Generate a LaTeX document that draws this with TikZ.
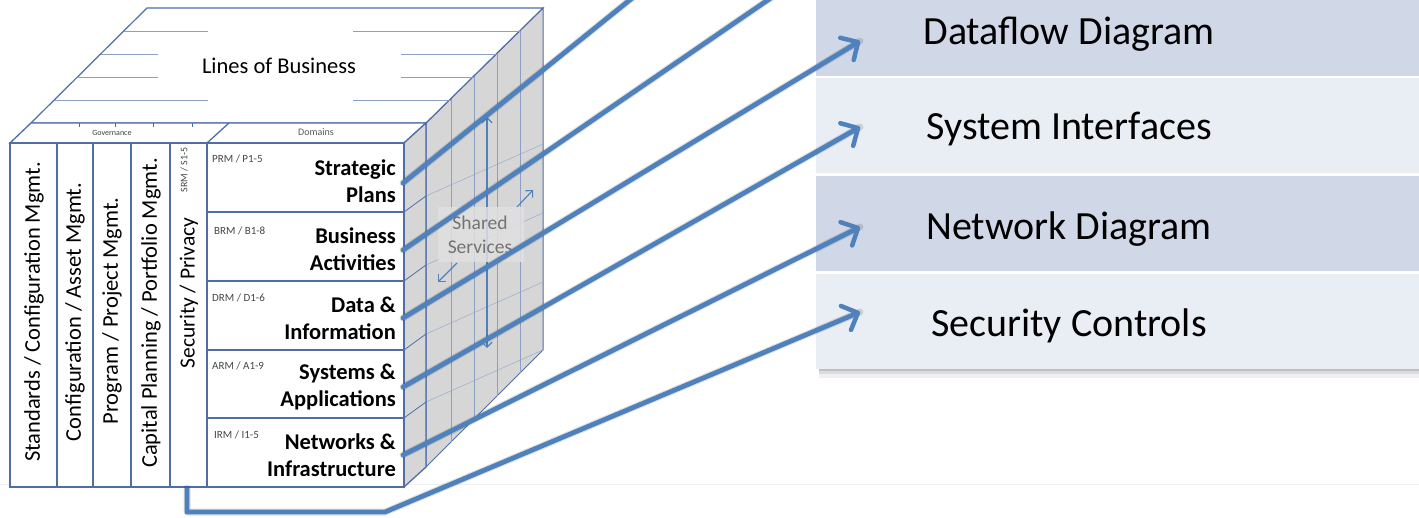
\documentclass[tikz,border=0pt]{standalone}
\usepackage{fontspec}
\setmainfont{Carlito}
\usetikzlibrary{arrows.meta}
\definecolor{cubeline}{RGB}{79,110,168}
\definecolor{facelines}{RGB}{140,160,196}
\definecolor{arrowblue}{RGB}{79,129,189}
\definecolor{sidegray}{RGB}{214,214,214}
\definecolor{rowdark}{RGB}{208,216,232}
\definecolor{rowlight}{RGB}{233,237,244}
\definecolor{codegray}{RGB}{70,70,70}
\begin{document}
\begin{tikzpicture}[x=1pt,y=-1pt,
  cube/.style={draw=cubeline, line width=1.3pt},
  thinline/.style={draw=facelines, line width=0.7pt},
  conn/.style={draw=arrowblue, line width=4.8pt, line cap=round, line join=round},
  tipped/.style={-{Straight Barb[length=13pt,width=26pt,line width=4.5pt,round]}},
  shadowline/.style={draw=black, opacity=0.12, line width=7pt, line cap=round, line join=round},
  domtxt/.style={font=\fontsize{22.5}{27}\selectfont\bfseries, align=right, anchor=east, inner sep=0pt},
  codetxt/.style={font=\fontsize{11}{13}\selectfont, text=codegray, anchor=west, inner sep=0pt},
  govtxt/.style={font=\fontsize{22.5}{26}\selectfont, rotate=90, inner sep=0pt},
  paneltxt/.style={font=\fontsize{40}{48}\selectfont, anchor=base, inner sep=0pt},
  smallarrow/.style={draw=arrowblue, line width=1.1pt, -{Straight Barb[length=5pt,width=10pt,line width=1.1pt]}},
]
\useasboundingbox (0,0) rectangle (1419,518);
\clip (0,0) rectangle (1419,518);
\fill[white] (0,0) rectangle (1419,518);
% faint slide line
\draw[black!6, line width=0.8pt] (0,484) -- (1419,484);

% ---------- right panel ----------
\fill[black!25] (819,369) rectangle (1419,371);
\fill[black!14] (819,371) rectangle (1419,374);
\fill[black!6] (819,374) rectangle (1419,378);
\fill[rowdark]  (816,-20) rectangle (1419,76);
\fill[rowlight] (816,78) rectangle (1419,173);
\fill[rowdark]  (816,176) rectangle (1419,271);
\fill[rowlight] (816,274) rectangle (1419,369);
\node[paneltxt] (df) at (1069,45) {Dataflow Diagram};
\node[paneltxt] (si) at (1069,140) {System Interfaces};
\node[paneltxt] (nd) at (1069,240) {Network Diagram};
\node[paneltxt] (sc) at (1069,337) {Security Controls};

% ---------- right face of cube ----------
\filldraw[fill=sidegray, draw=cubeline, line width=1pt]
  (426,123) -- (543,8) -- (543,350) -- (426,467) -- cycle;
\foreach \x in {451,474,497,520}{
  \draw[thinline] (\x,{123-(\x-426)}) -- (\x,{467-(\x-426)});
}
\foreach \yb in {212,281,350,418}{
  \draw[draw=cubeline!60, line width=0.5pt] (426,{\yb-16}) -- (543,{\yb-68});
}
% shared services
\draw[draw=arrowblue, line width=1.1pt, {Straight Barb[length=5pt,width=10pt,line width=1.1pt]}-{Straight Barb[length=5pt,width=10pt,line width=1.1pt]}] (487,117) -- (487,348);
\draw[smallarrow] (517,207) -- (533,190);
\draw[smallarrow] (457,263) -- (438,282);
\fill[black!12, opacity=0.85] (438,207) rectangle (524,262);
\node[font=\fontsize{19.5}{24}\selectfont, text=black!55, align=center, inner sep=0pt] (ss) at (480,235) {Shared\\Services};

% ---------- top face ----------
\filldraw[fill=white, draw=cubeline, line width=1.2pt]
  (31,123) -- (147,8) -- (543,8) -- (426,123) -- cycle;
\draw[thinline] (124,31) -- (208,31);  \draw[thinline] (353,31) -- (520,31);
\draw[thinline] (101,54) -- (158,54);  \draw[thinline] (401,54) -- (497,54);
\draw[thinline] (78,77) -- (158,77);   \draw[thinline] (401,77) -- (474,77);
\draw[thinline] (55,100) -- (208,100); \draw[thinline] (353,100) -- (451,100);
\node[font=\fontsize{22.5}{26}\selectfont, inner sep=0pt] (lob) at (279,66) {Lines of Business};

% ---------- header strip ----------
\filldraw[fill=white, cube] (10,143) -- (31,123) -- (426,123) -- (404,143) -- cycle;
\draw[cube] (207,143) -- (229,123);
\foreach \x in {79,115,153,192}{ \draw[draw=cubeline, line width=0.8pt] (\x,123) -- (\x,127); }
\node[font=\fontsize{8}{9}\selectfont, text=black!75, inner sep=0pt] (gov) at (112,133) {Governance};
\node[font=\fontsize{10}{12}\selectfont, text=black!65, inner sep=0pt] (dom) at (316,132) {Domains};

% ---------- slab side ----------
\filldraw[fill=sidegray, cube] (404,143) -- (426,123) -- (426,467) -- (404,487) -- cycle;
\foreach \yb in {212,281,350,418}{
  \draw[draw=cubeline, line width=0.8pt] (404,\yb) -- (426,{\yb-16});
}

% ---------- front face ----------
\filldraw[fill=white, cube] (10,143) rectangle (404,487);
\foreach \x in {57,93,131,170,207}{ \draw[cube] (\x,143) -- (\x,487); }
\foreach \yb in {212,281,350,418}{ \draw[cube] (207,\yb) -- (404,\yb); }

% governance columns
\node[govtxt] (g1) at (34,312) {Standards / Configuration Mgmt.};
\node[govtxt] (g2) at (75,312) {Configuration / Asset Mgmt.};
\node[govtxt] (g3) at (112,311) {Program / Project Mgmt.};
\node[govtxt] (g4) at (151,313) {Capital Planning / Portfolio Mgmt.};
\node[govtxt, font=\fontsize{21.5}{25}\selectfont] (g5) at (189,293) {Security / Privacy};
\node[font=\fontsize{10}{12}\selectfont, text=codegray, rotate=90, inner sep=0pt] (srm) at (184,170) {SRM / S1-5};

% domain rows
\node[codetxt] (c1) at (212,159) {PRM / P1-5};
\node[codetxt] (c2) at (214,231) {BRM / B1-8};
\node[codetxt] (c3) at (212,298) {DRM / D1-6};
\node[codetxt] (c4) at (212,366) {ARM / A1-9};
\node[codetxt] (c5) at (214,435) {IRM / I1-5};
\node[domtxt] (sp) at (396,181) {Strategic\\Plans};
\node[domtxt] (ba) at (396,249) {Business\\Activities};
\node[domtxt] (di) at (396,318) {Data \&\\Information};
\node[domtxt] (sa) at (396,387) {Systems \&\\Applications};
\node[domtxt] (ni) at (396,455) {Networks \&\\Infrastructure};

% ---------- connectors ----------
\coordinate (spS) at (403,183);
\coordinate (baS) at (403,250);
\coordinate (diS) at (403,318);
\coordinate (saS) at (403,387);
\coordinate (niS) at (403,455);
\coordinate (secS) at (187,488);
\coordinate (secA) at (187,512);
\coordinate (secB) at (385,512);
\coordinate (spE) at (657,-22);
\coordinate (baE) at (800,-22);
\coordinate (dfT) at (860,41);
\coordinate (siT) at (860,127);
\coordinate (ndT) at (860,227);
\coordinate (scT) at (860,312);

\begin{scope}[shift={(1.5,2.5)}]
\draw[shadowline] (spS) -- (spE);
\draw[shadowline] (baS) -- (baE);
\draw[shadowline] (diS) -- (dfT);
\draw[shadowline] (saS) -- (siT);
\draw[shadowline] (niS) -- (ndT);
\draw[shadowline] (secS) -- (secA) -- (secB) -- (scT);
\end{scope}
\draw[conn] (spS) -- (spE);
\draw[conn] (baS) -- (baE);
\draw[conn, tipped] (diS) -- (dfT);
\draw[conn, tipped] (saS) -- (siT);
\draw[conn, tipped] (niS) -- (ndT);
\draw[conn, tipped, line cap=butt] (secS) -- (secA) -- (secB) -- (scT);
\end{tikzpicture}
\end{document}
